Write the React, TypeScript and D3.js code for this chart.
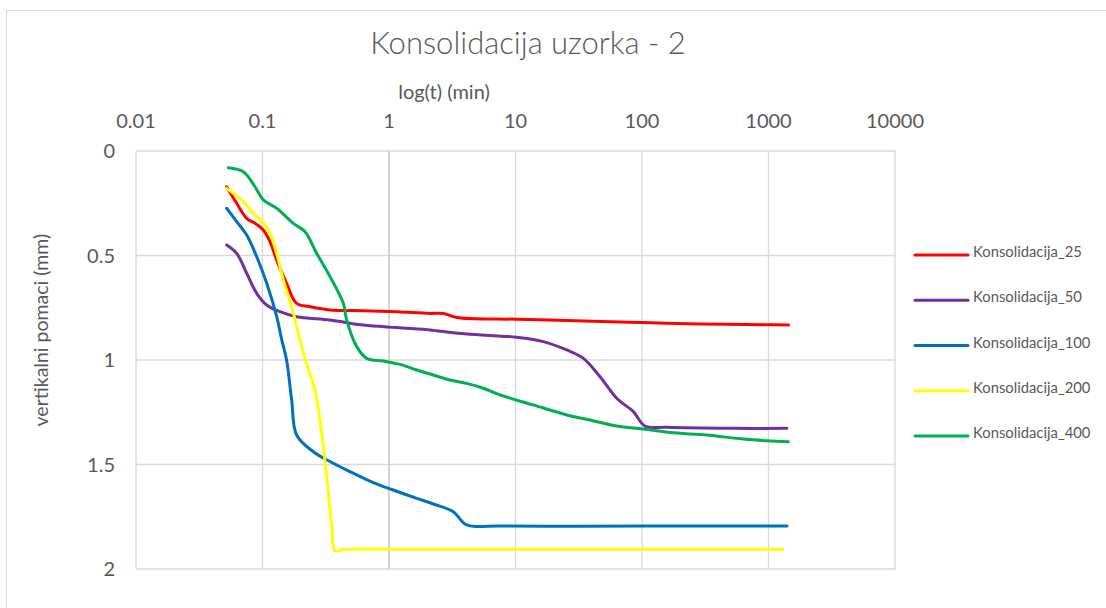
import React from 'react'
import * as d3 from 'd3'

// time (min) and vertical displacement (mm)
const t25 = [0.0521, 0.0625, 0.075, 0.0872, 0.1015, 0.1146, 0.1295, 0.155, 0.186, 0.237, 0.342, 0.627, 1.15, 2.11, 2.69, 3.43, 10.2, 34.4, 102, 287, 968, 1440]
const v25 = [0.171, 0.25, 0.322, 0.346, 0.378, 0.434, 0.522, 0.633, 0.729, 0.745, 0.761, 0.764, 0.769, 0.777, 0.777, 0.797, 0.805, 0.813, 0.821, 0.828, 0.831, 0.833]

const t50 = [0.0521, 0.0625, 0.075, 0.09, 0.108, 0.1374, 0.186, 0.342, 0.627, 1.15, 2.11, 2.38, 4.11, 10.2, 16.6, 25.4, 34.4, 46.6, 63.1, 85.4, 105.6, 157, 527, 1400]
const v50 = [0.45, 0.49, 0.585, 0.681, 0.737, 0.769, 0.793, 0.809, 0.833, 0.845, 0.856, 0.86, 0.876, 0.891, 0.912, 0.952, 0.992, 1.08, 1.183, 1.247, 1.316, 1.322, 1.327, 1.327]

const t100 = [0.0521, 0.0625, 0.075, 0.09, 0.108, 0.1295, 0.142, 0.155, 0.17, 0.186, 0.252, 0.363, 0.492, 0.751, 1.08, 1.656, 2.24, 3.22, 4.11, 7.54, 30, 200, 1400]
const v100 = [0.274, 0.338, 0.402, 0.506, 0.633, 0.793, 0.904, 1.0, 1.191, 1.359, 1.439, 1.494, 1.534, 1.587, 1.622, 1.662, 1.689, 1.726, 1.789, 1.794, 1.795, 1.794, 1.794]

const t200 = [0.0521, 0.0705, 0.0872, 0.1015, 0.1146, 0.1295, 0.146, 0.17, 0.198, 0.223, 0.26, 0.294, 0.322, 0.353, 0.374, 0.449, 2, 30, 300, 1300]
const v200 = [0.179, 0.242, 0.306, 0.346, 0.394, 0.49, 0.617, 0.745, 0.904, 1.016, 1.144, 1.351, 1.558, 1.798, 1.912, 1.906, 1.906, 1.906, 1.906, 1.906]

const t400 = [0.0537, 0.0705, 0.0872, 0.1015, 0.1295, 0.1751, 0.2168, 0.2683, 0.3418, 0.4352, 0.4629, 0.5555, 0.6666, 0.9016, 1.222, 1.656, 2.24, 3.04, 4.11, 5.56, 7.54, 13.8, 25.4, 38.8, 63.1, 102, 177, 324, 632, 968, 1440]
const v400 = [0.08, 0.099, 0.171, 0.234, 0.274, 0.346, 0.386, 0.49, 0.601, 0.729, 0.809, 0.936, 0.992, 1.005, 1.021, 1.048, 1.072, 1.096, 1.112, 1.135, 1.167, 1.215, 1.263, 1.287, 1.316, 1.33, 1.348, 1.359, 1.378, 1.386, 1.391]

const seriesNames = ['Konsolidacija_25', 'Konsolidacija_50', 'Konsolidacija_100', 'Konsolidacija_200', 'Konsolidacija_400']
const seriesColors = ['#ff0000', '#7030a0', '#0070c0', '#ffff00', '#00b050']
const seriesT = [t25, t50, t100, t200, t400]
const seriesV = [v25, v50, v100, v200, v400]

const xTicks = [0.01, 0.1, 1, 10, 100, 1000, 10000]
const yTicks = [0, 0.5, 1, 1.5, 2]

const W = 1106
const H = 608
const margin = { top: 151, right: 211, bottom: 39, left: 136 }
const FONT = 'Lato, "Open Sans", sans-serif'
const TEXT = '#595959'

export default function App() {
  const x = d3.scaleLog().domain([0.01, 10000]).range([margin.left, W - margin.right])
  const y = d3.scaleLinear().domain([0, 2]).range([margin.top, H - margin.bottom])

  const line = d3.line<[number, number]>()
    .x(d => x(d[0]))
    .y(d => y(d[1]))
    .curve(d3.curveCatmullRom.alpha(0.5))

  const legendY = d3.scalePoint<string>().domain(seriesNames).range([255, 436])

  return (
    <svg width={W} height={H} style={{ position: 'absolute', left: 0, top: 0, background: '#fff' }} fontFamily={FONT}>
      <rect x={6.5} y={10.5} width={W} height={H} fill="#fff" stroke="#d9d9d9" />

      <text x={528} y={54} textAnchor="middle" fontSize={31} fill={TEXT} fontWeight={300}>
        Konsolidacija uzorka - 2
      </text>
      <text x={444} y={99} textAnchor="middle" fontSize={20} fill={TEXT}>log(t) (min)</text>

      {yTicks.map(v => (
        <line key={'gy' + v} x1={x(0.01)} x2={x(10000)} y1={y(v)} y2={y(v)} stroke="#d9d9d9" strokeWidth={1.3} />
      ))}
      {xTicks.map(t => (
        <line key={'gx' + t} x1={x(t)} x2={x(t)} y1={y(0)} y2={y(2)} stroke={t === 1 ? '#bfbfbf' : '#d9d9d9'} strokeWidth={1.3} />
      ))}

      {xTicks.map(t => (
        <text key={'tx' + t} x={x(t)} y={128} textAnchor="middle" fontSize={20} fill={TEXT}>{String(t)}</text>
      ))}
      {yTicks.map(v => (
        <text key={'ty' + v} x={115} y={y(v) + 7} textAnchor="end" fontSize={20} fill={TEXT}>{String(v)}</text>
      ))}

      <text transform={`translate(48,${y(0.857)}) rotate(-90)`} textAnchor="middle" fontSize={19.5} fill={TEXT}>
        vertikalni pomaci (mm)
      </text>

      {seriesNames.map((name, i) => {
        const pts = seriesT[i].map((t, j) => [t, seriesV[i][j]] as [number, number])
        return (
          <path key={name} d={line(pts) ?? ''} fill="none" stroke={seriesColors[i]} strokeWidth={3}
            strokeLinecap="round" strokeLinejoin="round" />
        )
      })}

      {seriesNames.map((name, i) => (
        <g key={'lg' + name} transform={`translate(915,${legendY(name)})`}>
          <line x1={0} x2={53} y1={0} y2={0} stroke={seriesColors[i]} strokeWidth={3} strokeLinecap="round" />
          <text x={58} y={2} fontSize={14.8} fill={TEXT}>{name}</text>
        </g>
      ))}
    </svg>
  )
}
